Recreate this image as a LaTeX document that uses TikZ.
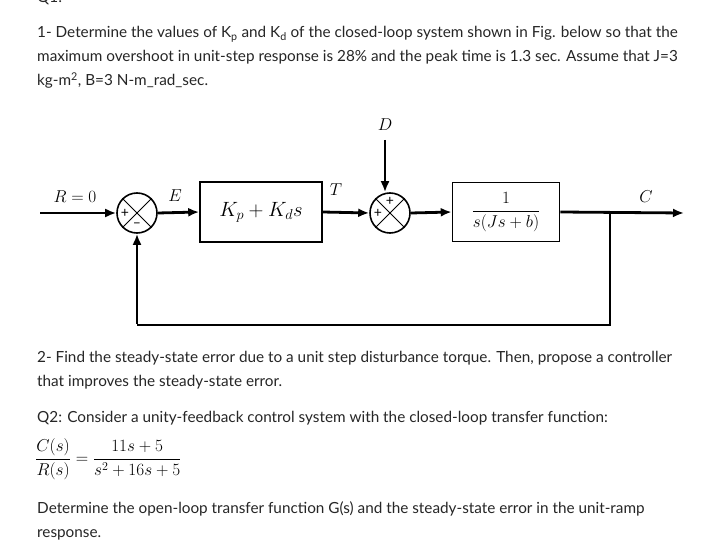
\documentclass[tikz,border=0pt]{standalone}
\usepackage{amsmath}
\usepackage{fontspec}
\setmainfont{Lato}
\usetikzlibrary{arrows.meta}
\begin{document}
\begin{tikzpicture}[x=1bp,y=-1bp,
  txt/.style={anchor=base west,inner sep=0,font=\fontsize{15.3bp}{18bp}\selectfont,text=black!85},
  blk/.style={draw,line width=1.6bp,minimum width=122bp,minimum height=60bp,inner sep=0},
  sum/.style={draw,circle,line width=1.6bp,minimum size=40bp,inner sep=0},
  sig/.style={line width=2.8bp,-{Latex[length=11bp,width=9bp]}},
  ln/.style={line width=2.8bp},
  pm/.style={font=\fontsize{14bp}{16bp}\selectfont,inner sep=0},
  lab/.style={font=\fontsize{18bp}{20bp}\selectfont,inner sep=0}]
\useasboundingbox[fill=white] (0,0) rectangle (705,555);
\begin{scope}
\clip (0,0) rectangle (705,555);
\node[txt] (q1) at (37,3) {Q1:};
\end{scope}
\node[txt] (l1) at (37,38) {1- Determine the values of K\textsubscript{p} and K\textsubscript{d} of the closed-loop system shown in Fig. below so that the};
\node[txt] (l2) at (37,62) {maximum overshoot in unit-step response is 28\% and the peak time is 1.3 sec. Assume that J=3};
\node[txt] (l3) at (37,86) {kg-m\textsuperscript{2}, B=3 N-m\_rad\_sec.};
% diagram
\node[sum] (s1) at (137,213) {};
\draw[line width=0.8bp] (s1.45)--(s1.225) (s1.135)--(s1.315);
\node[pm] at ([xshift=-12bp]s1.center) {+};
\node[pm] at ([yshift=-12bp]s1.center) {--};
\node[blk] (b1) at (261,212) {\fontsize{20bp}{22bp}\selectfont$K_p+K_d s$};
\node[sum] (s2) at (390,213) {};
\draw[line width=0.8bp] (s2.45)--(s2.225) (s2.135)--(s2.315);
\node[pm] at ([xshift=-12bp]s2.center) {+};
\node[pm] at ([yshift=12bp]s2.center) {+};
\node[blk,minimum width=107bp,minimum height=59bp] (b2) at (506,212) {\fontsize{17bp}{19bp}\selectfont$\dfrac{1}{s(Js+b)}$};
\coordinate (in) at (40,213);
\coordinate (dtop) at (385,140);
\coordinate (br) at (610,213);
\coordinate (out) at (684,213);
\coordinate (fb1) at (610,325);
\coordinate (fb2) at (137,325);
\draw[sig] (in)--(s1.west);
\draw[sig] (s1.east)--(b1.west);
\draw[sig] (b1.east)--(s2.west);
\draw[sig] (dtop)--(dtop|-s2.north);
\draw[sig] (s2.east)--(b2.west);
\draw[sig] (b2.east)--(out);
\draw[ln] (br)--(fb1)--(fb2);
\draw[sig] ([yshift=1.4bp]fb2)--(s1.south);
\node[lab] (rl) at (75,197) {$R=0$};
\node[lab] (el) at (175,196) {$E$};
\node[lab] (tl) at (336,190) {$T$};
\node[lab] (dl) at (385,125) {$D$};
\node[lab] (cl) at (646,197) {$C$};
% text below
\node[txt] (l4) at (37,362) {2- Find the steady-state error due to a unit step disturbance torque. Then, propose a controller};
\node[txt] (l5) at (37,386) {that improves the steady-state error.};
\node[txt] (l6) at (37,422) {Q2: Consider a unity-feedback control system with the closed-loop transfer function:};
\node[anchor=west,inner sep=0,font=\fontsize{17bp}{19bp}\selectfont] (eq) at (35,459) {$\dfrac{C(s)}{R(s)}=\dfrac{11s+5}{s^2+16s+5}$};
\node[txt] (l7) at (37,513) {Determine the open-loop transfer function G(s) and the steady-state error in the unit-ramp};
\node[txt] (l8) at (37,537) {response.};
\end{tikzpicture}
\end{document}
